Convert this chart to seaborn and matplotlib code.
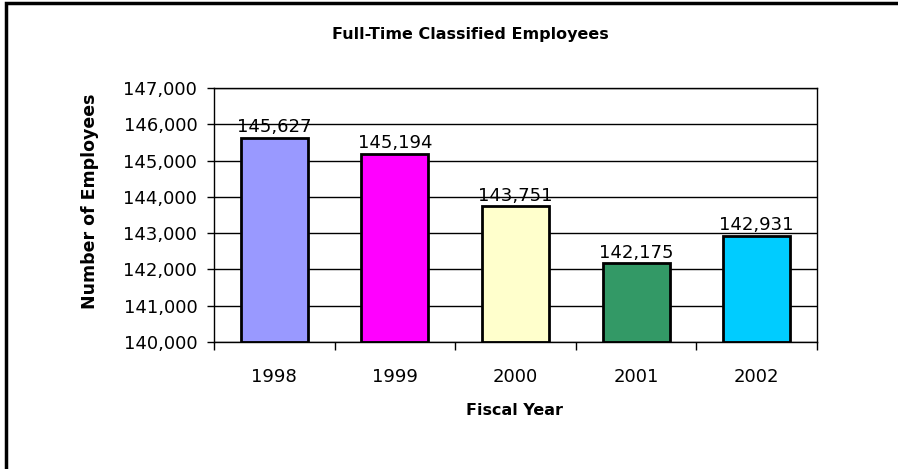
# Full-Time Classified Employees bar chart
import pandas as pd
import numpy as np
import matplotlib.pyplot as plt
import matplotlib.patches as mpatches
import seaborn as sns

# data
years = ["1998", "1999", "2000", "2001", "2002"]
employees = [145627, 145194, 143751, 142175, 142931]
bar_colors = ["#9999FF", "#FF00FF", "#FFFFCC", "#339966", "#00CCFF"]

df = pd.DataFrame({"Fiscal Year": years, "Employees": employees})

sns.set_style("white")
plt.rcParams['font.family'] = ['DejaVu Sans']
plt.rcParams['text.color'] = "black"
plt.rcParams['xtick.color'] = "black"
plt.rcParams['ytick.color'] = "black"

fig = plt.figure(figsize=(8.98, 4.69), dpi=100)
ax = fig.add_axes([214 / 898, 1 - 342 / 469, (817 - 214) / 898, (342 - 88) / 469])

sns.barplot(data=df, x="Fiscal Year", y="Employees", hue="Fiscal Year",
            palette=bar_colors, saturation=1, legend=False, width=0.555,
            edgecolor="black", linewidth=2, ax=ax)

# bars must start at the bottom of the axis, not at zero
for p in ax.patches:
    p.set_y(140000)
    p.set_height(p.get_height() - 140000)

ax.set_ylim(140000, 147000)
ax.set_xlim(-0.5, 4.5)
ax.set_yticks(np.arange(140000, 147001, 1000))
ax.yaxis.set_major_formatter(plt.FuncFormatter(lambda v, _: f"{v:,.0f}"))
ax.yaxis.grid(True, color="black", linewidth=1)
ax.set_axisbelow(True)

for i, c in enumerate(ax.containers):
    ax.bar_label(c, labels=[f"{employees[i]:,}"], fontsize=13, padding=1, color="black")

# ticks between categories, labels centred under the bars
ax.set_xticks(np.arange(-0.5, 5, 1), minor=True)
ax.tick_params(axis="x", which="minor", bottom=True, length=6, width=1, color="black", direction="out")
ax.tick_params(axis="x", which="major", bottom=True, length=0, pad=19, labelsize=13)
ax.tick_params(axis="y", length=5, width=1, color="black", direction="out", pad=7, labelsize=13, left=True)

for s in ax.spines.values():
    s.set_color("black")
    s.set_linewidth(1)

ax.set_xlabel("")
ax.set_ylabel("")
fig.text(0.524, 1 - 34 / 469, "Full-Time Classified Employees", ha="center", va="center",
         fontsize=11.5, fontweight="bold")
fig.text(90 / 898, 1 - 201 / 469, "Number of Employees", ha="center", va="center",
         rotation=90, fontsize=12.5, fontweight="bold")
fig.text(515 / 898, 1 - 410 / 469, "Fiscal Year", ha="center", va="center",
         fontsize=11.5, fontweight="bold")

# outer chart frame, only top and left edges visible
fig.patches.append(mpatches.Rectangle((6 / 898, -0.1), 1.2, 1.1 - 3.5 / 469, transform=fig.transFigure,
                                      fill=False, edgecolor="black", linewidth=2.5, clip_on=False))

fig.savefig("out.png", dpi=100)
